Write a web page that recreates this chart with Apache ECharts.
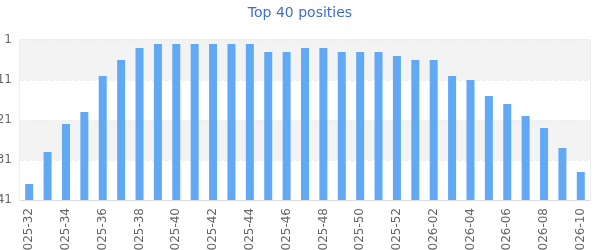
<!DOCTYPE html>
<html>
<head>
<meta charset="utf-8">
<script src="https://cdn.jsdelivr.net/npm/echarts@6/dist/echarts.min.js"></script>
<style>html,body{margin:0;padding:0;background:#fff}#c{width:600px;height:250px}</style>
</head>
<body>
<div id="c"></div>
<script>
const weeks = ['2025-32','2025-33','2025-34','2025-35','2025-36','2025-37','2025-38','2025-39','2025-40','2025-41',
  '2025-42','2025-43','2025-44','2025-45','2025-46','2025-47','2025-48','2025-49','2025-50','2025-51','2025-52',
  '2026-01','2026-02','2026-03','2026-04','2026-05','2026-06','2026-07','2026-08','2026-09','2026-10'];
const positions = [37,29,22,19,10,6,3,2,2,2,
  2,2,2,4,4,3,3,4,4,4,5,
  6,6,10,11,15,17,20,23,28,34];
const yTicks = [1,11,21,31,41];

const chart = echarts.init(document.getElementById('c'), null, {renderer:'canvas'});
chart.setOption({
  animation:false,
  title:{text:'Top 40 posities',left:'center',top:1,textStyle:{color:'#3d6fc9',fontSize:14,fontWeight:'normal',fontFamily:'DejaVu Sans'}},
  grid:{left:20,right:10,top:40,bottom:50,show:true,borderColor:'#ddd',borderWidth:1,backgroundColor:'transparent',outerBoundsMode:'none',containLabel:false},
  xAxis:{type:'category',data:weeks,
    axisLine:{lineStyle:{color:'#ddd'}},axisTick:{show:false},
    axisLabel:{rotate:90,interval:1,color:'#666',fontSize:12,fontFamily:'DejaVu Sans',margin:8}},
  yAxis:{type:'value',inverse:true,min:yTicks[0],max:yTicks[yTicks.length-1],interval:10,startValue:41,
    axisLine:{show:false},axisTick:{show:false},
    axisLabel:{color:'#666',fontSize:12,fontFamily:'DejaVu Sans',margin:8},
    splitLine:{show:true,lineStyle:{color:'#eee',type:'dashed'}},
    splitArea:{show:true,areaStyle:{color:['#f3f3f3','#ffffff']}}},
  series:[{type:'bar',data:positions,barWidth:8,itemStyle:{color:'#61a9f5'}}]
});
</script>
</body>
</html>
